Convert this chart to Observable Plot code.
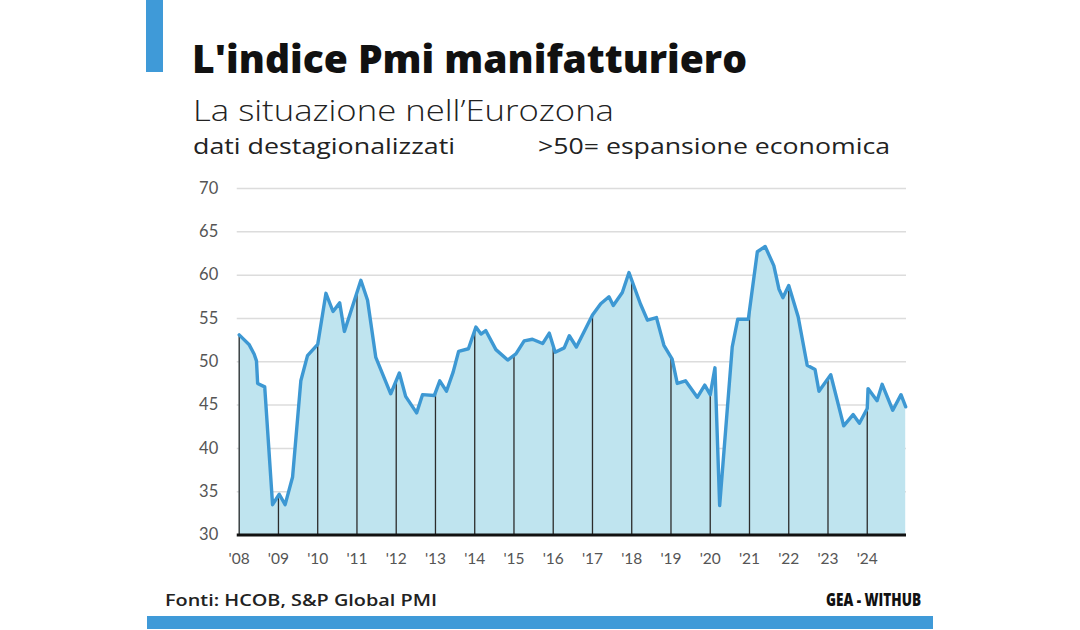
<!DOCTYPE html>
<html>
<head>
<meta charset="utf-8">
<script src="https://cdn.jsdelivr.net/npm/d3@7"></script>
<script src="https://cdn.jsdelivr.net/npm/@observablehq/plot@0.6"></script>
<style>
  html, body { margin: 0; padding: 0; background: #fff; }
  #page { position: relative; width: 1080px; height: 630px; overflow: hidden; background: #fff; font-family: "Open Sans", "Lato", sans-serif; }
  .t { position: absolute; white-space: nowrap; color: #1a1a1a; line-height: 1; transform-origin: 0 0; }
  #bar-top { position: absolute; left: 146px; top: 0; width: 17px; height: 72px; background: #3f9ad8; }
  #bar-bottom { position: absolute; left: 147px; top: 616px; width: 786px; height: 13px; background: #3f9ad8; }
  #title { left: 192px; top: 39px; font-size: 38px; font-weight: 800; color: #111; }
  #subtitle { left: 193px; top: 95px; font-size: 29px; font-weight: 300; color: #222; }
  #note1 { left: 193px; top: 136px; font-size: 21px; font-weight: 400; color: #222; }
  #note2 { left: 538px; top: 136px; font-size: 21px; font-weight: 400; color: #222; }
  #source { left: 165px; top: 591px; font-size: 17px; font-weight: 600; color: #222; }
  #brand { left: 826px; top: 591px; font-size: 17px; font-weight: 800; color: #111; }
  #chart { position: absolute; left: 0; top: 170px; }
</style>
</head>
<body>
<div id="page">
  <div id="bar-top"></div>
  <div class="t" id="title" data-w="555">L'indice Pmi manifatturiero</div>
  <div class="t" id="subtitle" data-w="421">La situazione nell’Eurozona</div>
  <div class="t" id="note1" data-w="262">dati destagionalizzati</div>
  <div class="t" id="note2" data-w="352">&gt;50= espansione economica</div>
  <div id="chart"></div>
  <div class="t" id="source" data-w="272">Fonti: HCOB, S&amp;P Global PMI</div>
  <div class="t" id="brand" data-w="95">GEA - WITHUB</div>
  <div id="bar-bottom"></div>
</div>
<script>
// Periodi (anni decimali)
const anni = [
  2008.00, 2008.25, 2008.38, 2008.44, 2008.47, 2008.65, 2008.85,
  2009.02, 2009.17, 2009.36, 2009.57, 2009.74,
  2010.00, 2010.21, 2010.39, 2010.56, 2010.68,
  2011.10, 2011.27, 2011.48, 2011.86,
  2012.08, 2012.24, 2012.52, 2012.67, 2012.97,
  2013.11, 2013.28, 2013.45, 2013.59, 2013.84,
  2014.03, 2014.16, 2014.28, 2014.54, 2014.84,
  2015.05, 2015.26, 2015.47, 2015.73, 2015.90,
  2016.05, 2016.28, 2016.41, 2016.59,
  2017.00, 2017.21, 2017.42, 2017.53, 2017.76, 2017.93,
  2018.05, 2018.22, 2018.40, 2018.63, 2018.82,
  2019.03, 2019.16, 2019.37, 2019.67, 2019.86,
  2020.00, 2020.12, 2020.24, 2020.56, 2020.70, 2020.97,
  2021.20, 2021.40, 2021.62, 2021.75, 2021.85,
  2022.00, 2022.24, 2022.47, 2022.67, 2022.77,
  2023.07, 2023.40, 2023.64, 2023.80,
  2024.00, 2024.02, 2024.25, 2024.38, 2024.65, 2024.86, 2024.98
];
// Indice PMI manifatturiero Eurozona
const pmi = [
  53.1, 52.0, 50.9, 50.1, 47.5, 47.1, 33.5,
  34.7, 33.5, 36.7, 47.8, 50.7,
  52.0, 57.9, 55.8, 56.8, 53.5,
  59.4, 57.1, 50.5, 46.3,
  48.7, 46.0, 44.1, 46.2, 46.1,
  47.8, 46.6, 48.8, 51.2, 51.5,
  54.0, 53.2, 53.6, 51.4, 50.2,
  50.9, 52.4, 52.6, 52.1, 53.3,
  51.1, 51.6, 53.0, 51.7,
  55.4, 56.7, 57.5, 56.5, 58.0, 60.3,
  58.8, 56.7, 54.8, 55.1, 51.9,
  50.3, 47.5, 47.8, 45.9, 47.3,
  46.2, 49.3, 33.4, 51.7, 54.9, 54.9,
  62.7, 63.3, 61.1, 58.4, 57.4,
  58.8, 55.2, 49.6, 49.1, 46.6,
  48.5, 42.6, 43.9, 42.9,
  44.6, 46.9, 45.5, 47.4, 44.4, 46.2, 44.8
];
// Etichette asse x
const anniTick = [2008, 2009, 2010, 2011, 2012, 2013, 2014, 2015, 2016, 2017, 2018, 2019, 2020, 2021, 2022, 2023, 2024];
const etichetteTick = ["'08", "'09", "'10", "'11", "'12", "'13", "'14", "'15", "'16", "'17", "'18", "'19", "'20", "'21", "'22", "'23", "'24"];
// Asse y
const valoriY = [30, 35, 40, 45, 50, 55, 60, 65, 70];

const data = anni.map((a, i) => ({anno: a, pmi: pmi[i]}));

// valore della linea all'inizio di ogni anno (interpolazione lineare)
function valoreA(x) {
  for (let i = 0; i < anni.length - 1; i++) {
    if (x >= anni[i] && x <= anni[i + 1]) {
      const t = (x - anni[i]) / (anni[i + 1] - anni[i]);
      return pmi[i] + t * (pmi[i + 1] - pmi[i]);
    }
  }
  return pmi[pmi.length - 1];
}
const regole = anniTick.map(a => ({anno: a, v: valoreA(a)}));
const labelOf = new Map(anniTick.map((a, i) => [a, etichetteTick[i]]));

const chart = Plot.plot({
  width: 1080,
  height: 410,
  marginLeft: 238.7,
  marginRight: 174,
  marginTop: 18,
  marginBottom: 45.5,
  style: {fontFamily: "Lato, 'Open Sans', sans-serif", background: "transparent"},
  x: {domain: [2008, 2025], ticks: anniTick, tickFormat: d => labelOf.get(d), tickSize: 0, tickPadding: 18, label: null},
  y: {domain: [30, 70], ticks: valoriY, tickSize: 0, tickPadding: 21, label: null},
  marks: [
    Plot.ruleY(valoriY.filter(v => v > 30), {x1: 2007.95, x2: 2025, stroke: "#dcdcdc", strokeWidth: 1.5}),
    Plot.areaY(data, {x: "anno", y1: 30, y2: "pmi", fill: "#bfe4ef", curve: "linear"}),
    Plot.ruleX(regole, {x: "anno", y1: 30, y2: "v", stroke: "#2b2b2b", strokeWidth: 1.3}),
    Plot.line(data, {x: "anno", y: "pmi", stroke: "#3d98d3", strokeWidth: 3.4, strokeLinejoin: "round"}),
    Plot.ruleY([30], {x1: 2007.95, x2: 2025, stroke: "#111", strokeWidth: 3}),
    Plot.axisX({ticks: anniTick, tickFormat: d => labelOf.get(d), tickSize: 0, tickPadding: 18, fontSize: 15.5, fill: "#555", label: null}),
    Plot.axisY({ticks: valoriY, tickSize: 0, tickPadding: 21, fontSize: 16.5, fill: "#555", label: null})
  ]
});
document.getElementById("chart").appendChild(chart);

// adatta la larghezza dei testi a quella dell'originale
document.querySelectorAll(".t[data-w]").forEach(el => {
  const target = +el.dataset.w;
  const w = el.getBoundingClientRect().width;
  if (w > 0) el.style.transform = `scaleX(${target / w})`;
});
</script>
</body>
</html>
